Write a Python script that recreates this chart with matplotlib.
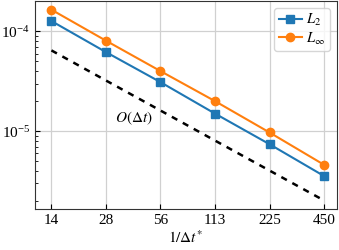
import matplotlib
matplotlib.use('Agg')
import matplotlib.pyplot as plt
from matplotlib.ticker import FixedLocator, FixedFormatter, NullLocator

plt.rcParams['font.family'] = 'serif'
plt.rcParams['font.serif'] = ['Liberation Serif', 'DejaVu Serif']
plt.rcParams['mathtext.fontset'] = 'stix'
plt.rcParams['font.size'] = 11

# data
inv_dt = [14.0625, 28.125, 56.25, 112.5, 225, 450]
tick_labels = ['14', '28', '56', '113', '225', '450']
err_l2 = [1.27e-4, 6.2e-5, 3.1e-5, 1.50e-5, 7.4e-6, 3.55e-6]
err_linf = [1.65e-4, 8.07e-5, 4.0e-5, 2.0e-5, 9.7e-6, 4.6e-6]
ref_order1 = [6.45e-5, 3.22e-5, 1.61e-5, 8.05e-6, 4.03e-6, 2.02e-6]

fig = plt.figure(figsize=(3.39, 2.5), dpi=100)
ax = fig.add_axes([0.103, 0.164, 0.891, 0.834])

ax.plot(inv_dt, err_l2, marker='s', color='#1f77b4', lw=1.5, ms=6, label=r'$L_2$')
ax.plot(inv_dt, err_linf, marker='o', color='#ff7f0e', lw=1.5, ms=6, label=r'$L_\infty$')
ax.plot(inv_dt, ref_order1, 'k--', lw=1.8, dashes=(2.5, 2.5))
ax.text(40, 1.35e-5, r'$O(\Delta t)$', ha='center', va='center', fontsize=11)

ax.set_xscale('log')
ax.set_yscale('log')
ax.set_xlim(11.4, 530)
ax.set_ylim(1.66e-6, 2.04e-4)
ax.xaxis.set_major_locator(FixedLocator(inv_dt))
ax.xaxis.set_major_formatter(FixedFormatter(tick_labels))
ax.xaxis.set_minor_locator(NullLocator())
ax.tick_params(which='both', direction='in')
ax.grid(True, which='major', color='#d0d0d0', lw=0.9)
ax.set_axisbelow(True)
for s in ax.spines.values():
    s.set_color('#333333')
ax.set_xlabel(r'$1/\Delta t^{*}$', labelpad=2)
ax.legend(loc='upper right', fontsize=10.5, handlelength=1.6, borderpad=0.3,
          labelspacing=0.15, handletextpad=0.3, borderaxespad=0.5)

fig.savefig('out.png', dpi=100)
